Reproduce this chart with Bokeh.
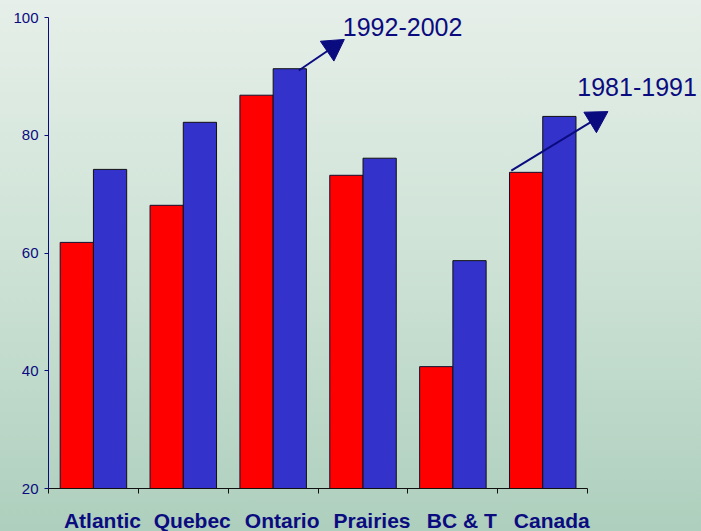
import math
from bokeh.plotting import figure
from bokeh.models import (ColumnDataSource, FixedTicker, CustomJSTickFormatter,
                          Label, GlobalInlineStyleSheet)
from bokeh.embed import file_html
from bokeh.resources import INLINE

# ---- data ----
regions = ["Atlantic", "Quebec", "Ontario", "Prairies", "BC & T", "Canada"]
period_a = [61.8, 68.1, 86.8, 73.2, 40.7, 73.7]   # 1981-1991 (red)
period_b = [74.2, 82.2, 91.3, 76.1, 58.7, 83.2]   # 1992-2002 (blue)
y_ticks = [20, 40, 60, 80, 100]
label_a = "1981-1991"
label_b = "1992-2002"

NAVY = "#0b0b80"
BAR_W = 0.37
N = len(regions)
X_MAX = N + 1.3          # extra room on the right for the annotations
CAT_PX = 539.0 / N       # pixels per category
FRAME_H = 471
px_x = 1.0 / CAT_PX      # data units per pixel (x)
px_y = 80.0 / FRAME_H    # data units per pixel (y)

idx = list(range(N))
src = ColumnDataSource(dict(
    xa=[i + 0.5 - BAR_W / 2 for i in idx],
    xb=[i + 0.5 + BAR_W / 2 for i in idx],
    a=period_a, b=period_b,
))

p = figure(x_range=(0, X_MAX), y_range=(20, 100),
           frame_width=int(round(CAT_PX * X_MAX)), frame_height=FRAME_H,
           min_border_left=48, min_border_right=0,
           min_border_top=17, min_border_bottom=43,
           output_backend="svg", toolbar_location=None)
p.border_fill_color = None
p.background_fill_color = None
p.outline_line_color = None
p.grid.visible = False

p.vbar(x="xa", top="a", bottom=20, width=BAR_W, source=src,
       fill_color="#ff0000", line_color="#101030", line_width=1)
p.vbar(x="xb", top="b", bottom=20, width=BAR_W, source=src,
       fill_color="#3333cc", line_color="#101010", line_width=1)

# y axis
p.yaxis.ticker = FixedTicker(ticks=y_ticks)
p.yaxis.axis_line_color = NAVY
p.yaxis.major_tick_line_color = NAVY
p.yaxis.major_tick_out = 4
p.yaxis.major_tick_in = 0
p.yaxis.minor_tick_line_color = None
p.yaxis.major_label_standoff = 6
p.yaxis.major_label_text_font = "Liberation Sans"
p.yaxis.major_label_text_font_size = "15px"
p.yaxis.major_label_text_color = NAVY

# x axis: tick marks at category boundaries, labels near centers
p.xaxis.bounds = (0, N)
p.xaxis.ticker = FixedTicker(ticks=[i + 0.6 for i in idx],
                             minor_ticks=list(range(N + 1)))
p.xaxis.formatter = CustomJSTickFormatter(args=dict(names=regions),
                                          code="return names[Math.floor(tick)];")
p.xaxis.axis_line_color = "#111111"
p.xaxis.major_tick_line_color = None
p.xaxis.major_tick_out = 0
p.xaxis.major_tick_in = 0
p.xaxis.minor_tick_line_color = "#111111"
p.xaxis.minor_tick_out = 5
p.xaxis.minor_tick_in = 0
p.xaxis.major_label_standoff = 15
p.xaxis.major_label_text_font = "Liberation Sans"
p.xaxis.major_label_text_font_style = "bold"
p.xaxis.major_label_text_font_size = "21px"
p.xaxis.major_label_text_color = NAVY


def arrow(x0, y0, dx_px, dy_px):
    """arrow from a data anchor, going dx_px right and dy_px up (pixels)"""
    L = math.hypot(dx_px, dy_px)
    ux, uy = dx_px / L, dy_px / L
    back = 12.0  # triangle centroid sits 12px behind the tip
    tip_x, tip_y = x0 + dx_px * px_x, y0 + dy_px * px_y
    cx, cy = tip_x - back * ux * px_x, tip_y - back * uy * px_y
    p.segment(x0=[x0], y0=[y0], x1=[cx], y1=[cy], line_color=NAVY, line_width=2)
    ang = math.atan2(dy_px, dx_px) - math.pi / 2
    p.scatter(x=[cx], y=[cy], marker="triangle", size=24, angle=ang,
              fill_color=NAVY, line_color=NAVY)
    return tip_x, tip_y


ont = regions.index("Ontario")
can = regions.index("Canada")

b_x0 = ont + 0.5 + BAR_W / 2 + 0.1
b_y0 = period_b[ont] - 0.3
arrow(b_x0, b_y0, 44, 30)
p.add_layout(Label(x=b_x0 + 44 * px_x, y=b_y0 + 43 * px_y, text=label_b,
                   text_font="Liberation Sans", text_font_size="25px",
                   text_color=NAVY, text_baseline="alphabetic"))

a_x0 = can + 0.5 - BAR_W + 0.02
a_y0 = period_a[can] + 0.3
arrow(a_x0, a_y0, 95, 58)
p.add_layout(Label(x=a_x0 + 66 * px_x, y=a_y0 + 84 * px_y, text=label_a,
                   text_font="Liberation Sans", text_font_size="25px",
                   text_color=NAVY, text_baseline="alphabetic"))

p.stylesheets = [GlobalInlineStyleSheet(css="""
html { height: 100%; overflow: hidden;
       background: linear-gradient(to bottom, #e6efe9 0%, #cde2d5 50%, #aecfbd 100%); }
body { background: transparent; overflow: hidden; margin: 0; }
""")]

open("out.html", "w").write(file_html(p, INLINE))
